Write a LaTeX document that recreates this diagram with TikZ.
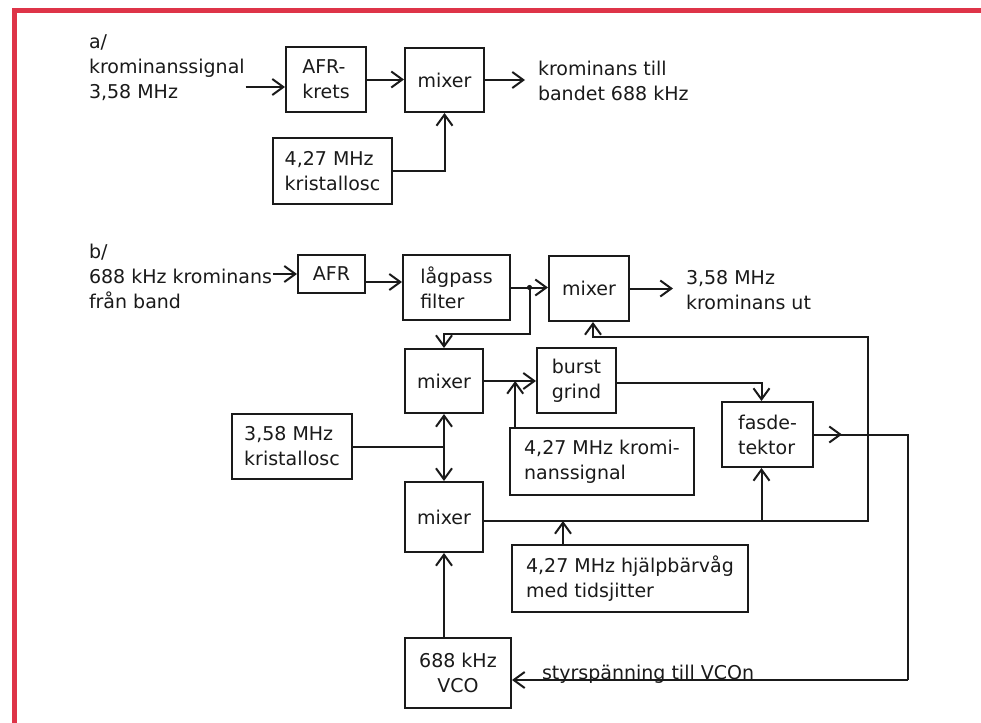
\documentclass[tikz,border=0pt]{standalone}
\usepackage{fontspec}
\setmainfont{DejaVu Sans}
\usepackage{tikz}
\usetikzlibrary{arrows.meta, calc}
\definecolor{framered}{HTML}{DE3448}
\definecolor{inkgrey}{HTML}{1A1A1A}

\begin{document}
\begin{tikzpicture}[x=0.5pt, y=-0.5pt, line width=1pt, inkgrey,
    >={Straight Barb[length=5.5pt,width=8pt]},
    every node/.style={font=\fontsize{9.5}{12.5}\selectfont},
    blk/.style={draw, align=left, inner sep=2pt},
    lbl/.style={anchor=west, align=left, inner sep=0pt}]
  \useasboundingbox (0,0) rectangle (981,723);
  \fill[white] (0,0) rectangle (981,723);
  \draw[framered, line width=2.5pt] (14,723) -- (14,10) -- (981,10);

  % a/
  \node[lbl] (tagA) at (88,42) {a/};
  \node[lbl] (inA) at (88,80) {krominanssignal\\3,58 MHz};
  \node[blk, minimum width=40pt, minimum height=32.5pt] (afrA) at (326,79.5) {AFR-\\krets};
  \node[blk, minimum width=39.5pt, minimum height=32pt] (mixA) at (444.5,80) {mixer};
  \node[blk, minimum width=59.5pt, minimum height=33pt] (oscA) at (332.5,171) {4,27 MHz\\kristallosc};
  \node[lbl] (outA) at (537,80.5) {krominans till\\bandet 688 kHz};
  \draw[->] ([yshift=-3.5pt]inA.east) -- ([yshift=-3.5pt]inA.east -| afrA.west);
  \draw[->] (afrA.east) -- (afrA.east -| mixA.west);
  \draw[->, shorten >=6pt] (mixA.east) -- (mixA.east -| outA.west);
  \draw[->] (oscA.east) -| (mixA.south);

  % b/
  \node[lbl] (tagB) at (88,252) {b/};
  \node[lbl] (inB) at (88,288.5) {688 kHz krominans\\från band};
  \node[blk, minimum width=33.5pt, minimum height=19pt] (afrB) at (331.5,274) {AFR};
  \node[blk, minimum width=53.5pt, minimum height=32.5pt] (lpf) at (456.5,287.5) {lågpass\\filter};
  \node[blk, minimum width=40pt, minimum height=32.5pt] (mixB1) at (589,288.5) {mixer};
  \node[lbl] (outB) at (685,290.5) {3,58 MHz\\krominans ut};
  \node[blk, minimum width=39pt, minimum height=32pt] (mixB2) at (444,381) {mixer};
  \node[blk, minimum width=39.5pt, minimum height=32.5pt] (burst) at (576.5,380.5) {burst\\grind};
  \node[blk, minimum width=60pt, minimum height=32.5pt] (osc358) at (292,446.5) {3,58 MHz\\kristallosc};
  \node[blk, minimum width=92pt, minimum height=33.5pt] (kromi) at (602,461.5) {4,27 MHz kromi-\\nanssignal};
  \node[blk, minimum width=45.5pt, minimum height=32.5pt] (fasdet) at (767.5,434.5) {fasde-\\tektor};
  \node[blk, minimum width=39pt, minimum height=35pt] (mixB3) at (444,517) {mixer};
  \node[blk, minimum width=118pt, minimum height=33.5pt] (hjalp) at (630,578.5) {4,27 MHz hjälpbärvåg\\med tidsjitter};
  \node[blk, minimum width=53pt, minimum height=35pt, align=center] (vco) at (458,673) {688 kHz\\VCO};
  \node[anchor=base west, inner sep=0pt] (ctlLbl) at (541,679) {styrspänning till VCOn};

  \draw[->] (inB.east |- afrB.west) -- (afrB.west);
  \draw[->] ([yshift=-4pt]afrB.east) -- ([yshift=-4pt]afrB.east -| lpf.west);
  \coordinate (split) at ($(lpf.east)!0.5!(lpf.east -| mixB1.west)$);
  \draw[->] (lpf.east) -- (lpf.east -| mixB1.west);
  \fill (split) circle (1.3pt);
  \draw[->] (split) -- ++(0,46) -| (mixB2.north);
  \draw[->, shorten >=6pt] (mixB1.east) -- (mixB1.east -| outB.west);
  \draw[->] (mixB2.east) -- (mixB2.east -| burst.west);
  \coordinate (j1) at ($(mixB2.east)!0.6!(mixB2.east -| burst.west)$);
  \draw[->] (kromi.north -| j1) -- (j1);
  \draw[->] ([yshift=-1pt]burst.east) -| ([xshift=-3pt]fasdet.north);
  \coordinate (j2) at (mixB2.south |- osc358.east);
  \draw (osc358.east) -- (j2);
  \draw[->] (j2) -- (mixB2.south);
  \draw[->] (j2) -- (mixB3.north);
  \coordinate (fbR) at (868,521);
  \coordinate (fbT) at (868,337);
  \draw[->] (mixB3.east |- fbR) -- (fbR) -- (fbT) -| ([xshift=2pt]mixB1.south);
  \draw[->] ([xshift=-3pt]fasdet.south |- fbR) -- ([xshift=-3pt]fasdet.south);
  \coordinate (j3) at (563,521);
  \draw[->] (hjalp.north -| j3) -- (j3);
  \coordinate (ctl) at (908,680);
  \draw (fasdet.east) -- (fasdet.east -| ctl) -- (ctl);
  \draw[->] (fasdet.east) -- ++(28,0);
  \draw[->] (ctl) -- (ctl -| vco.east);
  \draw[->] (vco.north -| mixB3.south) -- (mixB3.south);
\end{tikzpicture}
\end{document}
